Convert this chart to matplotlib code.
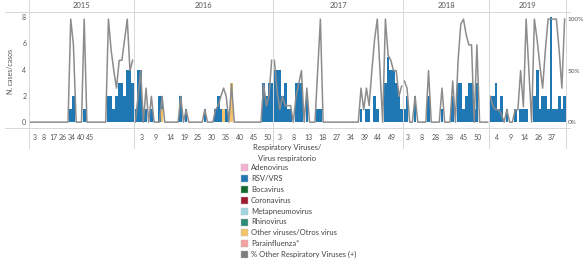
import matplotlib.pyplot as plt
import numpy as np
from matplotlib.patches import Rectangle
from matplotlib.lines import Line2D

plt.rcParams['font.family'] = ['Lato', 'DejaVu Sans']

years = ['2015', '2016', '2017', '2018', '2019']

# RSV/VRS cases per week category (blue)
rsv_2015 = [0]*15 + [1, 2, 0, 0, 0, 1] + [0]*8 + [2, 2, 1, 2, 3, 3, 2, 4, 4, 3]
rsv_2016 = [1, 4, 4, 1, 1, 0, 1, 0, 0, 2, 1, 0, 0, 0, 0, 0, 0, 2, 0, 1,
            0, 0, 0, 0, 0, 0, 1, 0, 0, 0, 1, 2, 1, 0, 1, 0, 0, 0, 0, 0,
            0, 0, 0, 0, 0, 0, 0, 0, 3, 2, 3, 3]
rsv_2017 = [4, 4, 4, 2, 3, 1, 1, 0, 3, 3, 3, 0, 2, 0, 0, 0, 1, 1] + [0]*14 + \
           [1, 0, 1, 1, 0, 2, 1, 0, 0, 3, 5, 4, 4, 3, 2, 1]
rsv_2018 = [1, 2, 0, 0, 2, 0, 0, 0, 0, 2, 0, 0, 0, 0, 1, 0, 0, 0, 2, 0,
            3, 3, 1, 2, 3, 3, 1, 3, 0, 0, 0, 0]
rsv_2019 = [2, 2, 3, 1, 2, 0, 1, 0, 0, 1, 0, 1, 1, 1, 0, 0, 2, 4, 1, 2,
            2, 1, 8, 1, 1, 2, 1, 2]

# Other viruses/Otros virus (yellow)
other_2015 = [0]*39
other_2016 = [0]*52
other_2016[10] = 1
other_2016[33] = 1
other_2016[36] = 3
other_2017 = [0]*48
other_2018 = [0]*32
other_2019 = [0]*28

# % Other Respiratory Viruses (+)
pct_2015 = [0]*15 + [100, 75, 0, 0, 0, 100] + [0]*8 + [100, 70, 50, 33, 60, 60, 80, 100, 50, 60]
pct_2016 = [0, 25, 50, 0, 33, 0, 25, 0, 0, 0, 25, 0, 0, 0, 0, 0, 0, 25, 0, 12,
            0, 0, 0, 0, 0, 0, 12, 0, 0, 0, 12, 16, 25, 33, 25, 0, 37, 0, 0, 0,
            0, 0, 0, 0, 0, 0, 0, 0, 37, 16, 25, 60]
pct_2017 = [60, 30, 12, 25, 16, 16, 16, 0, 25, 37, 50, 0, 33, 0, 0, 0, 50, 100] + [0]*14 + \
           [33, 12, 33, 16, 50, 80, 100, 50, 0, 100, 65, 60, 50, 50, 25, 35]
pct_2018 = [40, 33, 0, 0, 25, 0, 0, 0, 0, 50, 0, 0, 0, 0, 33, 0, 0, 0, 40, 0,
            60, 95, 100, 85, 75, 75, 0, 75, 0, 0, 0, 0]
pct_2019 = [25, 15, 12, 12, 8, 0, 12, 0, 0, 12, 12, 50, 15, 100, 50, 0, 100, 80, 55, 33,
            70, 100, 100, 100, 100, 70, 33, 100]

rsv = [rsv_2015, rsv_2016, rsv_2017, rsv_2018, rsv_2019]
other = [other_2015, other_2016, other_2017, other_2018, other_2019]
pct = [pct_2015, pct_2016, pct_2017, pct_2018, pct_2019]

week_labels = [
    ['3', '8', '17', '26', '34', '40', '45'],
    ['3', '9', '14', '19', '25', '30', '35', '40', '45', '50'],
    ['3', '8', '13', '18', '27', '34', '39', '44', '49'],
    ['3', '8', '28', '38', '45', '50'],
    ['4', '9', '14', '26', '37'],
]

legend_names = ['Adenovirus', 'RSV/VRS', 'Bocavirus', 'Coronavirus', 'Metapneumovirus',
                'Rhinovirus', 'Other viruses/Otros virus', 'Parainfluenza*',
                '% Other Respiratory Viruses (+)']
legend_colors = ['#f4b3d0', '#1f77b4', '#12692e', '#9e1a30', '#a0d6e2',
                 '#2c8a78', '#f4c36a', '#f6a29e', '#7d7d7d']

BLUE = '#1f77b4'
YELLOW = '#f4c36a'
GREY = '#8c8c8c'
TXT = '#555555'

W, H = 584, 262
fig = plt.figure(figsize=(W/100, H/100), dpi=100)

# panel edges in pixels
edges = [29, 134, 273, 403, 489, 566]
top_px, bot_px = 12, 128
tick_start = [1.7, 2.5, 2.1, 1.35, 2.4]
tick_step = [3.4, 5.24, 5.19, 5.19, 5.0]

for i, yr in enumerate(years):
    x0, x1 = edges[i], edges[i+1]
    ax = fig.add_axes([x0/W, 1 - bot_px/H, (x1 - x0)/W, (bot_px - top_px)/H])
    n = len(rsv[i])
    x = np.arange(n)
    ax.bar(x, other[i], width=1.0, color=YELLOW, linewidth=0)
    ax.bar(x, rsv[i], width=1.0, bottom=other[i], color=BLUE, linewidth=0)
    ax.set_xlim(-0.5, n - 0.5)
    ax.set_ylim(-0.45, 8.4)
    for s in ax.spines.values():
        s.set_visible(False)
    ticks = tick_start[i] + tick_step[i]*np.arange(len(week_labels[i]))
    ax.set_xticks(ticks)
    ax.set_xticklabels(week_labels[i])
    ax.tick_params(axis='x', length=0, labelsize=5, pad=4, colors=TXT)
    if i == 0:
        ax.set_yticks([0, 2, 4, 6, 8])
        ax.tick_params(axis='y', length=0, labelsize=5, pad=2, colors=TXT)
    else:
        ax.set_yticks([])

    ax2 = ax.twinx()
    ax2.plot(x, pct[i], color=GREY, lw=1.1)
    ax2.set_ylim(-5.7, 106.9)
    for s in ax2.spines.values():
        s.set_visible(False)
    if i == len(years) - 1:
        ax2.set_yticks([0, 50, 100])
        ax2.set_yticklabels(['0%', '50%', '100%'])
        ax2.tick_params(axis='y', length=0, labelsize=4.6, pad=1, colors=TXT)
    else:
        ax2.set_yticks([])

    fig.text((x0 + x1)/2/W, 1 - 6/H, yr, ha='center', va='center', fontsize=5.5, color=TXT)

# header / axis rules and panel separators
fig.add_artist(Line2D([5/W, 570/W], [1 - top_px/H]*2, color='#d8d8d8', lw=0.7))
fig.add_artist(Line2D([5/W, 570/W], [1 - bot_px/H]*2, color='#d8d8d8', lw=0.7))
for e in edges:
    fig.add_artist(Line2D([e/W, e/W], [1 - 148/H, 1], color='#d8d8d8', lw=0.7))

fig.text(11/W, 1 - 71/H, 'N. cases/casos', rotation=90, ha='center', va='center',
         fontsize=5, color=TXT)

# legend
fig.text(287/W, 1 - 147.5/H, 'Respiratory Viruses/', ha='center', va='center', fontsize=5.5, color='#444444')
fig.text(287/W, 1 - 158/H, 'Virus respiratorio', ha='center', va='center', fontsize=5.5, color='#444444')
for j, (name, col) in enumerate(zip(legend_names, legend_colors)):
    yc = 167.5 + 10.9*j
    fig.add_artist(Rectangle((241/W, 1 - (yc + 3.5)/H), 7/W, 7/H, facecolor=col,
                             edgecolor='#bbbbbb', lw=0.3, transform=fig.transFigure))
    fig.text(251/W, 1 - yc/H, name, ha='left', va='center', fontsize=5.5, color='#444444')

plt.savefig('out.png', dpi=100)
